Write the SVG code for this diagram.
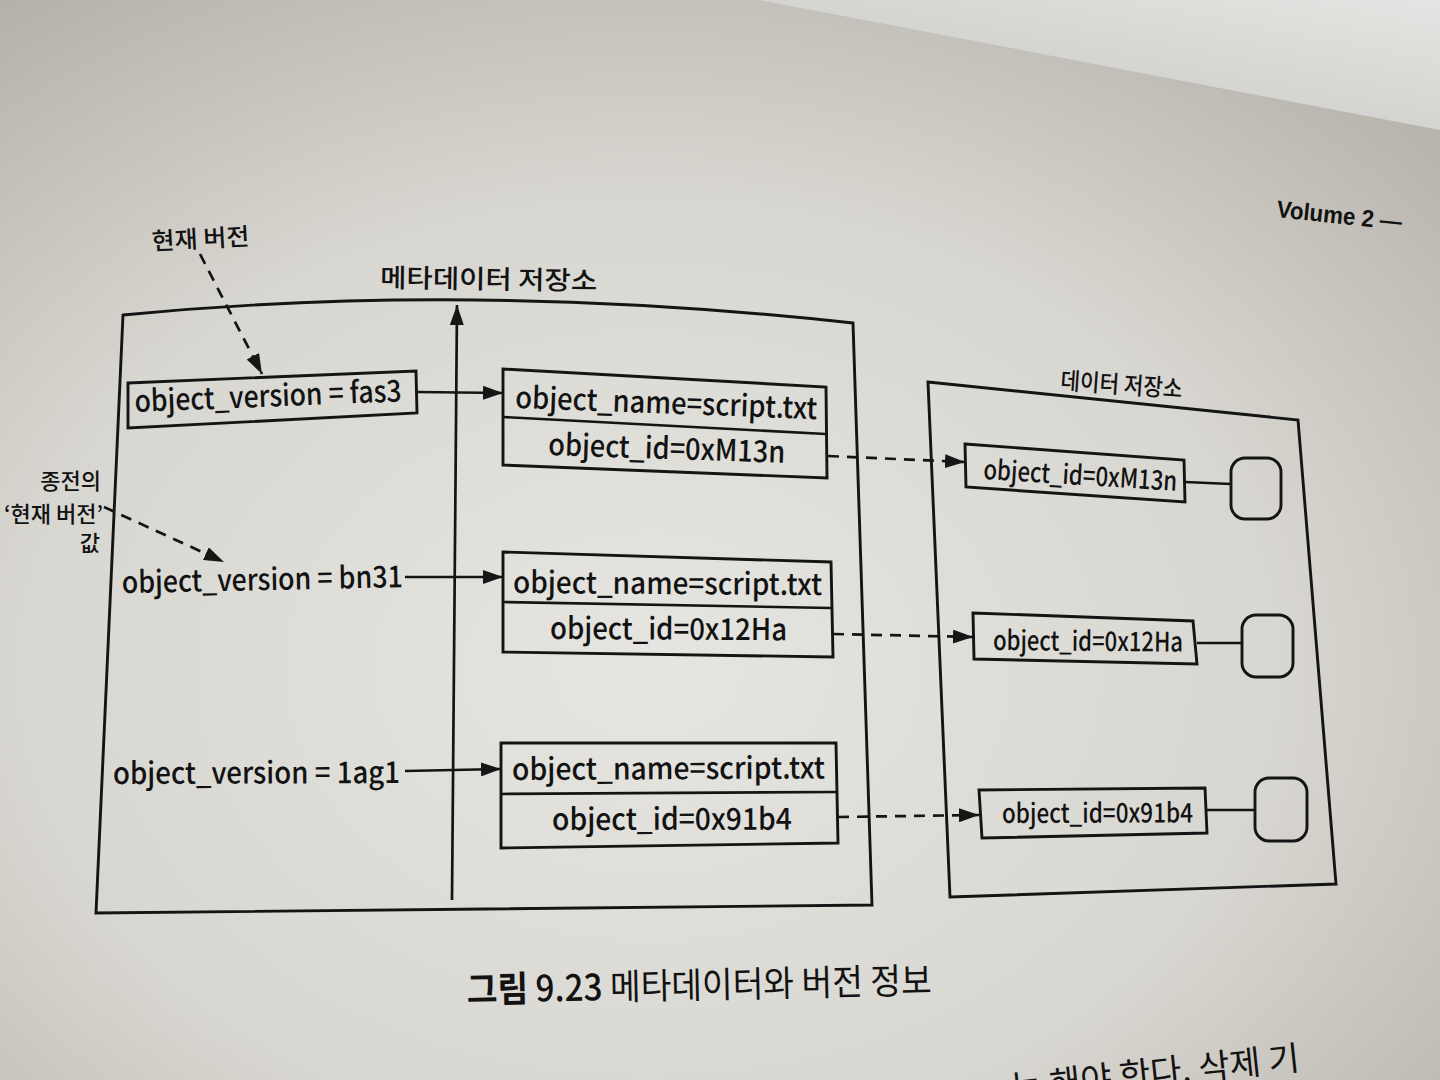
<svg xmlns="http://www.w3.org/2000/svg" width="1440" height="1080" viewBox="0 0 1440 1080">
<defs>
<radialGradient id="paper" cx="0.45" cy="0.62" r="0.8">
<stop offset="0" stop-color="#e6e5e1"/>
<stop offset="0.55" stop-color="#d8d6d0"/>
<stop offset="1" stop-color="#b1ada5"/>
</radialGradient>
<linearGradient id="beyond" x1="0" y1="1" x2="1" y2="0">
<stop offset="0" stop-color="#c4c5c1"/>
<stop offset="1" stop-color="#e4e5e2"/>
</linearGradient>
<marker id="ah" viewBox="0 0 20 14" refX="20" refY="7" markerWidth="20" markerHeight="14" markerUnits="userSpaceOnUse" orient="auto">
<path d="M0,0 L20,7 L0,14 Z" fill="#161616"/>
</marker>
<style>
.ln{stroke:#141414;stroke-width:2.7;fill:none}
.box{stroke:#141414;stroke-width:2.9;fill:none;stroke-linejoin:miter}
.dash{stroke-dasharray:11 8}
.t{font-family:"Noto Sans CJK KR","Noto Sans",sans-serif;fill:#121212}
.lat{font-size:30px;font-weight:500}
.sm{font-size:27px;font-weight:500}
.ko{font-size:24px;font-weight:500}
.ko2{font-size:22px;font-weight:500}
</style>
</defs>
<rect x="0" y="0" width="1440" height="1080" fill="url(#paper)"/>
<polygon points="760,0 1440,0 1440,130" fill="url(#beyond)"/>

<g id="header">
<text x="1276" y="217" font-weight="700" font-size="24" fill="#121212" transform="rotate(6 1276 217)" style="font-family:'Liberation Sans',Arial,sans-serif" textLength="126" lengthAdjust="spacingAndGlyphs">Volume 2 —</text>
</g>

<g id="metadata-store">
<path class="box" d="M123,315 Q470,281 853,323 L872,905 L96,913 Z"/>
<text class="t" x="380" y="287" font-size="26" font-weight="500" textLength="217" lengthAdjust="spacingAndGlyphs" transform="rotate(0.8 380 287)">메타데이터 저장소</text>
</g>

<g id="data-store">
<polygon class="box" points="928,382 1298,420 1336,884 950,897"/>
<text class="t" x="1060" y="389" font-size="24" font-weight="500" textLength="122" lengthAdjust="spacingAndGlyphs" transform="rotate(4 1060 389)">데이터 저장소</text>
</g>

<g id="label-current">
<text class="t ko" x="152" y="250" textLength="98" lengthAdjust="spacingAndGlyphs" transform="rotate(-3 152 250)">현재 버전</text>
</g>

<g id="label-previous">
<text class="t ko2" text-anchor="end" x="101" y="489">종전의</text>
<text class="t ko2" text-anchor="end" x="103" y="522">‘현재 버전’</text>
<text class="t ko2" text-anchor="end" x="100" y="551">값</text>
</g>

<g id="version-fas3">
<polygon class="box" points="128,383 416,371 417,413 128,428"/>
<text class="t lat" x="135" y="412" textLength="267" lengthAdjust="spacingAndGlyphs" transform="rotate(-2.3 135 412)">object_version = fas3</text>
</g>
<g id="version-bn31">
<text class="t lat" x="122" y="593" textLength="281" lengthAdjust="spacingAndGlyphs" transform="rotate(-1.2 122 593)">object_version = bn31</text>
</g>
<g id="version-1ag1">
<text class="t lat" x="113" y="784" textLength="287" lengthAdjust="spacingAndGlyphs" transform="rotate(-0.2 113 784)">object_version = 1ag1</text>
</g>

<g id="object-1">
<polygon class="box" points="503,369 826,387 827,478 503,465"/>
<line class="ln" x1="503" y1="417" x2="826" y2="434"/>
<text class="t lat" x="515" y="408" textLength="302" lengthAdjust="spacingAndGlyphs" transform="rotate(2.1 515 408)">object_name=script.txt</text>
<text class="t lat" x="548" y="455" textLength="237" lengthAdjust="spacingAndGlyphs" transform="rotate(1.9 548 455)">object_id=0xM13n</text>
</g>
<g id="object-2">
<polygon class="box" points="503,552 831,562 833,657 503,652"/>
<line class="ln" x1="503" y1="602" x2="831" y2="608"/>
<text class="t lat" x="513" y="593" textLength="309" lengthAdjust="spacingAndGlyphs" transform="rotate(0.4 513 593)">object_name=script.txt</text>
<text class="t lat" x="550" y="639" textLength="237" lengthAdjust="spacingAndGlyphs" transform="rotate(0.3 550 639)">object_id=0x12Ha</text>
</g>
<g id="object-3">
<polygon class="box" points="501,743 836,743 838,843 501,848"/>
<line class="ln" x1="501" y1="794" x2="836" y2="792"/>
<text class="t lat" x="512" y="780" textLength="313" lengthAdjust="spacingAndGlyphs" transform="rotate(-0.3 512 780)">object_name=script.txt</text>
<text class="t lat" x="552" y="830" textLength="240" lengthAdjust="spacingAndGlyphs" transform="rotate(-0.1 552 830)">object_id=0x91b4</text>
</g>

<g id="data-1">
<polygon class="box" points="965,444 1184,460 1185,502 966,487"/>
<text class="t sm" x="983" y="479" textLength="194" lengthAdjust="spacingAndGlyphs" transform="rotate(3.5 983 479)">object_id=0xM13n</text>
<rect class="box" x="1231" y="458" width="50" height="61" rx="14"/>
</g>
<g id="data-2">
<polygon class="box" points="973,613 1193,621 1197,664 974,659"/>
<text class="t sm" x="993" y="650" textLength="190" lengthAdjust="spacingAndGlyphs" transform="rotate(0.5 993 650)">object_id=0x12Ha</text>
<rect class="box" x="1242" y="615" width="51" height="62" rx="14"/>
</g>
<g id="data-3">
<polygon class="box" points="979,790 1205,788 1207,833 982,838"/>
<text class="t sm" x="1002" y="823" textLength="191" lengthAdjust="spacingAndGlyphs" transform="rotate(-0.2 1002 823)">object_id=0x91b4</text>
<rect class="box" x="1255" y="778" width="52" height="63" rx="14"/>
</g>

<g id="connectors">
<line class="ln" x1="452" y1="900" x2="457" y2="305" marker-end="url(#ah)"/>
<line class="ln" x1="417" y1="392" x2="503" y2="393" marker-end="url(#ah)"/>
<line class="ln" x1="405" y1="577" x2="503" y2="577" marker-end="url(#ah)"/>
<line class="ln" x1="405" y1="771" x2="501" y2="769" marker-end="url(#ah)"/>
<line class="ln dash" x1="828" y1="456" x2="965" y2="462" marker-end="url(#ah)"/>
<line class="ln dash" x1="833" y1="634" x2="973" y2="637" marker-end="url(#ah)"/>
<line class="ln dash" x1="838" y1="817" x2="979" y2="815" marker-end="url(#ah)"/>
<line class="ln" x1="1185" y1="482" x2="1231" y2="484"/>
<line class="ln" x1="1197" y1="643" x2="1242" y2="643"/>
<line class="ln" x1="1207" y1="810" x2="1255" y2="810"/>
<line class="ln dash" stroke-width="3" x1="200" y1="254" x2="262" y2="374" marker-end="url(#ah)"/>
<line class="ln dash" stroke-width="3" x1="104" y1="507" x2="224" y2="562" marker-end="url(#ah)"/>
</g>

<g id="caption">
<text class="t" x="467" y="1003" font-size="36" textLength="465" lengthAdjust="spacingAndGlyphs" transform="rotate(-1.2 467 1003)"><tspan font-weight="700">그림</tspan><tspan font-weight="500"> 9.23</tspan><tspan font-weight="400"> 메타데이터와 버전 정보</tspan></text>
</g>

<g id="body-text">
<text class="t" x="1012" y="1100" font-size="34" transform="rotate(-6 1012 1100)">는 해야 한다. 삭제 기</text>
</g>
</svg>
